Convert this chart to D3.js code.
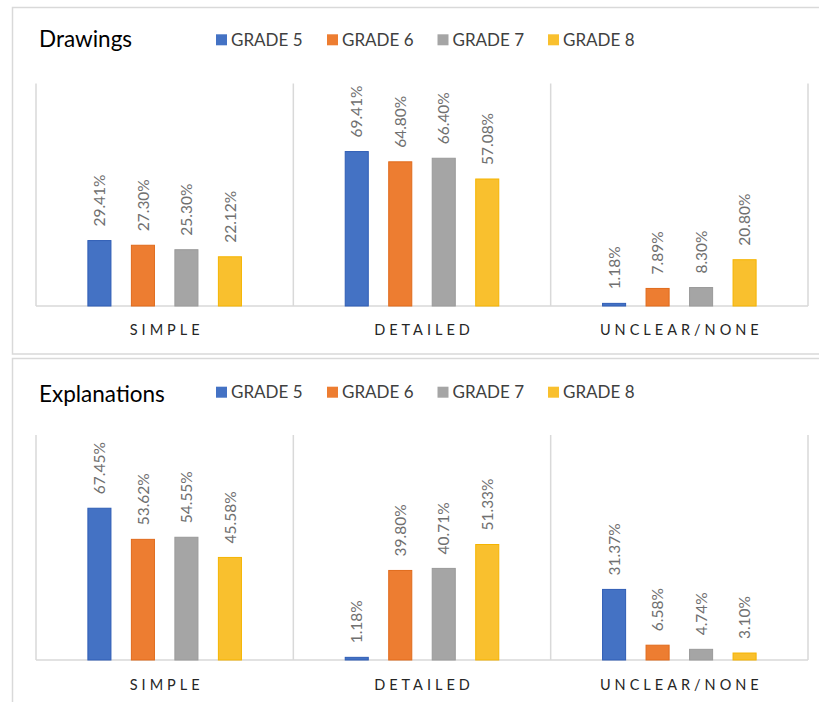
<!DOCTYPE html>
<html>
<head>
<meta charset="utf-8">
<script src="https://cdn.jsdelivr.net/npm/d3@7"></script>
<style>
  html, body { margin: 0; padding: 0; background: #fff; }
  svg { display: block; font-family: Lato, "Open Sans", sans-serif; }
</style>
</head>
<body>
<svg id="chart" width="819" height="702"></svg>
<script>
// Response categories along the x axis
const categories = ["SIMPLE", "DETAILED", "UNCLEAR/NONE"];
// Grade series shown in each group
const grades = ["GRADE 5", "GRADE 6", "GRADE 7", "GRADE 8"];
const gradeColors = ["#4472C4", "#ED7D31", "#A5A5A5", "#F9C02E"];
const gradeStrokes = ["#2F5DB5", "#E06A1B", "#9A9A9A", "#F5B400"];

// Percentages per grade, ordered as in `categories`
const drawingsGrade5 = [29.41, 69.41, 1.18];
const drawingsGrade6 = [27.30, 64.80, 7.89];
const drawingsGrade7 = [25.30, 66.40, 8.30];
const drawingsGrade8 = [22.12, 57.08, 20.80];

const explanationsGrade5 = [67.45, 1.18, 31.37];
const explanationsGrade6 = [53.62, 39.80, 6.58];
const explanationsGrade7 = [54.55, 40.71, 4.74];
const explanationsGrade8 = [45.58, 51.33, 3.10];

const svg = d3.select("#chart");

function drawPanel(title, series, layout) {
  const g = svg.append("g");

  // panel frame
  g.append("rect")
    .attr("x", 12.5).attr("y", layout.frameTop)
    .attr("width", 830).attr("height", layout.frameHeight)
    .attr("fill", "#fff").attr("stroke", "#d9d9d9").attr("stroke-width", 1.5);

  // title
  g.append("text")
    .attr("x", 39).attr("y", layout.titleBase)
    .attr("font-size", 22.5).attr("fill", "#000")
    .text(title);

  // legend
  const legendX = d3.scaleOrdinal().domain(grades).range([216, 327, 437.5, 548]);
  const leg = g.selectAll("g.leg").data(grades).join("g").attr("class", "leg")
    .attr("transform", d => `translate(${legendX(d)},${layout.legendTop})`);
  leg.append("rect").attr("width", 11).attr("height", 11)
    .attr("fill", (d, i) => gradeColors[i]);
  leg.append("text").attr("x", 15).attr("y", 11.4)
    .attr("font-size", 17).attr("fill", "#404040").text(d => d);

  // scales
  const x0 = d3.scaleBand().domain(categories).range([36, 808]).padding(0);
  const x1 = d3.scaleBand().domain(grades).range([-87, 87])
    .paddingInner(0.47).paddingOuter(0.235);
  const y = d3.scaleLinear().domain([0, 100]).range([layout.base, layout.top]);

  // category separators and baseline
  const bounds = categories.map(c => x0(c)).concat([x0.range()[1]]);
  g.selectAll("line.sep").data(bounds).join("line").attr("class", "sep")
    .attr("x1", d => d).attr("x2", d => d)
    .attr("y1", layout.top).attr("y2", layout.base)
    .attr("stroke", "#d9d9d9").attr("stroke-width", 1.5);
  g.append("line")
    .attr("x1", 36).attr("x2", 808).attr("y1", layout.base).attr("y2", layout.base)
    .attr("stroke", "#d9d9d9").attr("stroke-width", 1.5);

  // bars and value labels
  const rows = [];
  categories.forEach((c, ci) => grades.forEach((gr, gi) => {
    rows.push({ cat: c, grade: gr, gi, value: series[gi][ci] });
  }));
  const cx = d => x0(d.cat) + x0.bandwidth() / 2 + x1(d.grade);

  g.selectAll("rect.bar").data(rows).join("rect").attr("class", "bar")
    .attr("x", d => cx(d)).attr("width", x1.bandwidth())
    .attr("y", d => y(d.value)).attr("height", d => layout.base - y(d.value))
    .attr("fill", d => gradeColors[d.gi])
    .attr("stroke", d => gradeStrokes[d.gi]).attr("stroke-width", 1);

  g.selectAll("text.val").data(rows).join("text").attr("class", "val")
    .attr("transform", d => `translate(${cx(d) + x1.bandwidth() / 2},${y(d.value) - 14}) rotate(-90)`)
    .attr("dy", "0.36em")
    .attr("font-size", 15.5).attr("fill", "#707070")
    .text(d => d.value.toFixed(2) + "%");

  // category axis labels
  const ls = 4;
  g.selectAll("text.cat").data(categories).join("text").attr("class", "cat")
    .attr("x", d => x0(d) + x0.bandwidth() / 2 + ls / 2)
    .attr("y", layout.catBase)
    .attr("text-anchor", "middle")
    .attr("font-size", 14.5).attr("letter-spacing", ls).attr("fill", "#262626")
    .text(d => d);
}

drawPanel("Drawings",
  [drawingsGrade5, drawingsGrade6, drawingsGrade7, drawingsGrade8],
  { frameTop: 7.5, frameHeight: 346.5, titleBase: 47, legendTop: 34.3,
    top: 83.5, base: 306, catBase: 335 });

drawPanel("Explanations",
  [explanationsGrade5, explanationsGrade6, explanationsGrade7, explanationsGrade8],
  { frameTop: 358.5, frameHeight: 360, titleBase: 402, legendTop: 386.7,
    top: 435, base: 660, catBase: 689.5 });
</script>
</body>
</html>
